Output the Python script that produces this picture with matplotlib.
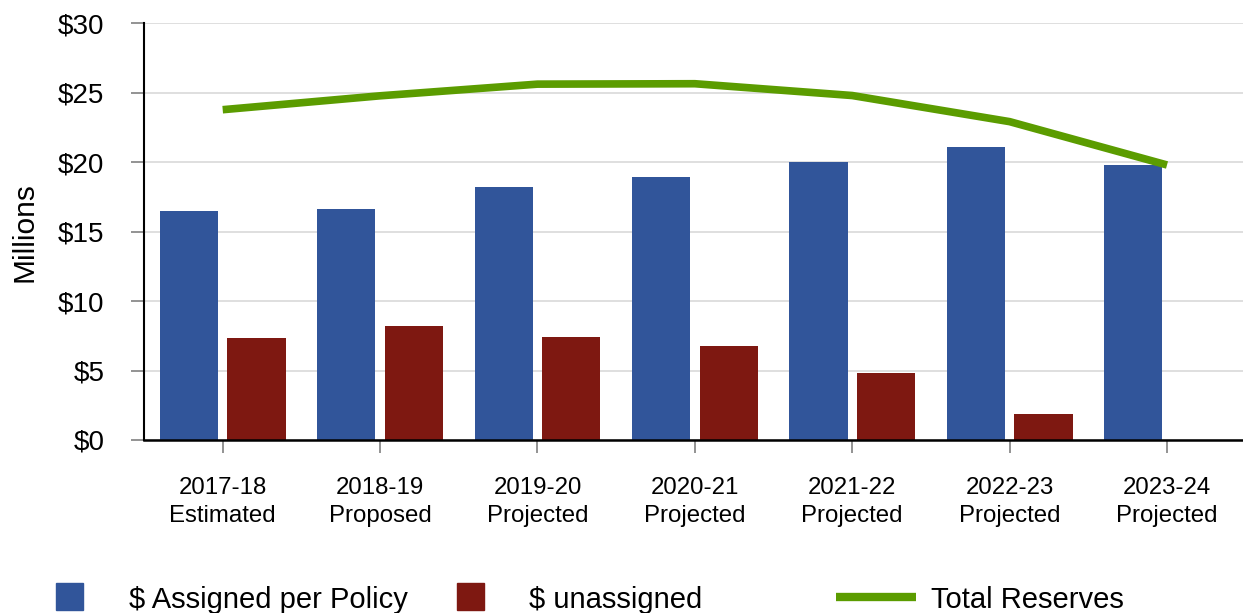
import matplotlib
matplotlib.use("Agg")
import matplotlib.pyplot as plt
import numpy as np
from matplotlib.patches import Rectangle
from matplotlib.lines import Line2D

plt.rcParams['font.family'] = ['Liberation Sans', 'DejaVu Sans']

# reserve figures, $ millions
years = ['2017-18\nEstimated', '2018-19\nProposed', '2019-20\nProjected', '2020-21\nProjected',
         '2021-22\nProjected', '2022-23\nProjected', '2023-24\nProjected']
assigned = [16.47, 16.60, 18.20, 18.92, 20.00, 21.08, 19.80]
unassigned = [7.34, 8.20, 7.41, 6.76, 4.82, 1.87, 0.0]
total = [23.78, 24.78, 25.62, 25.65, 24.80, 22.92, 19.80]

c_blue = '#31559A'
c_red = '#7E1811'
c_green = '#5B9C00'

fig = plt.figure(figsize=(12.43, 6.13), dpi=100)
ax = fig.add_axes([144/1243, 1-440/613, (1245.7-144)/1243, (440-23.3)/613])

x = np.arange(len(years))
w = 0.37
ax.bar(x - 0.215, assigned, width=w, color=c_blue, zorder=2)
ax.bar(x + 0.215, unassigned, width=w, color=c_red, zorder=2)
ax.plot(x, total, color=c_green, linewidth=5.5, solid_capstyle='butt', zorder=3)

ax.set_xlim(-0.5, 6.5)
ax.set_ylim(0, 30)
ax.set_yticks(range(0, 31, 5))
ax.set_yticklabels([f'${v}' for v in range(0, 31, 5)], fontsize=20)
ax.set_xticks(x)
ax.set_xticklabels(years, fontsize=17.3, linespacing=1.38)
ax.tick_params(axis='y', length=9.5, width=1.2, color='#808080', pad=19)
ax.tick_params(axis='x', length=9, width=1.2, color='#808080', pad=17.5)
ax.set_ylabel('Millions', fontsize=21.5, labelpad=14)

ax.grid(axis='y', color='#d9d9d9', linewidth=1.2, zorder=0)
ax.set_axisbelow(True)
for s in ['top', 'right']:
    ax.spines[s].set_visible(False)
ax.spines['left'].set_linewidth(1.5)
ax.spines['bottom'].set_linewidth(1.8)
ax.spines['bottom'].set_zorder(4)

# legend along the bottom edge
W, H = 1243, 613
fig.add_artist(Rectangle((56/W, 1-610/H), 27/W, 27/H, transform=fig.transFigure, color=c_blue))
fig.text(129/W, 1-608/H, '$ Assigned per Policy', fontsize=21, va='baseline')
fig.add_artist(Rectangle((457/W, 1-610/H), 27/W, 27/H, transform=fig.transFigure, color=c_red))
fig.text(529/W, 1-608/H, '$ unassigned', fontsize=21, va='baseline')
fig.add_artist(Line2D([836/W, 916/W], [1-597/H, 1-597/H], transform=fig.transFigure,
                      color=c_green, linewidth=6, solid_capstyle='butt'))
fig.text(931/W, 1-608/H, 'Total Reserves', fontsize=21, va='baseline')

fig.savefig('out.png', dpi=100)
